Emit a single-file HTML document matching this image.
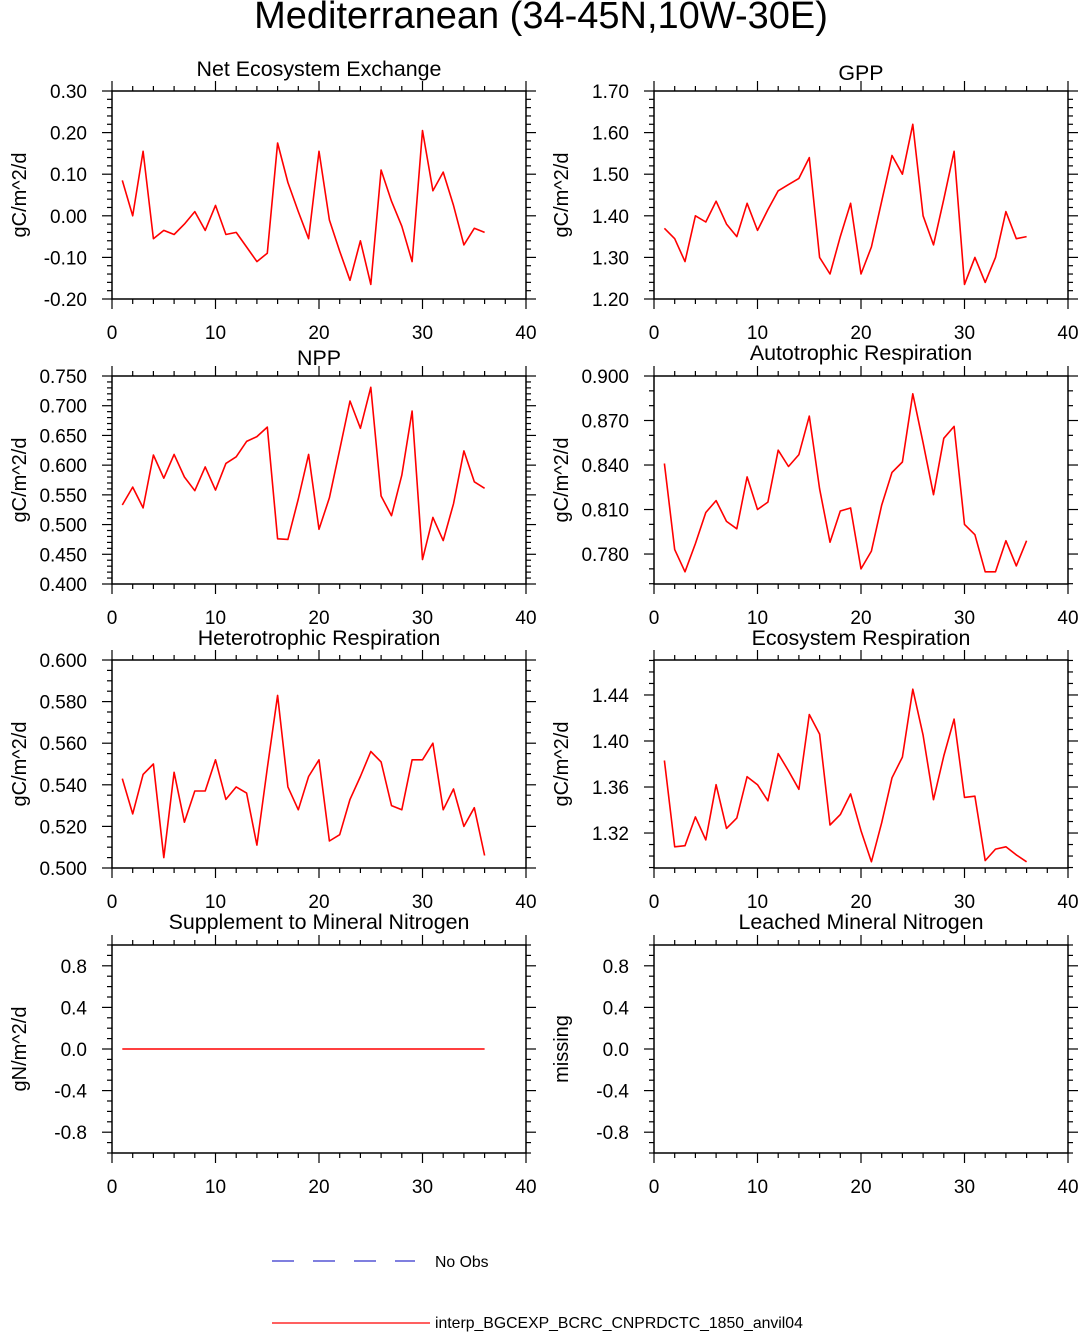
<!DOCTYPE html>
<html><head><meta charset="utf-8"><style>
html,body{margin:0;padding:0;background:#fff;}
svg{display:block;font-family:"Liberation Sans",Arial,sans-serif;}
</style></head><body>
<svg id="c" width="1080" height="1332" viewBox="0 0 1080 1332" xmlns="http://www.w3.org/2000/svg">
<text x="541" y="28" font-size="38" text-anchor="middle">Mediterranean (34-45N,10W-30E)</text>
<g>
<line x1="272" y1="1261" x2="415" y2="1261" stroke="#3333cc" stroke-width="1.2" stroke-dasharray="22,19"/>
<text x="435" y="1267" font-size="15.8">No Obs</text>
<line x1="272" y1="1323" x2="430" y2="1323" stroke="#ff0000" stroke-width="1.2"/>
<text x="435" y="1328" font-size="15.8">interp_BGCEXP_BCRC_CNPRDCTC_1850_anvil04</text>
</g>
</svg>
<script>
const years = Array.from({length:36},(_,i)=>i+1);
const neeValues = [0.085,0.0,0.155,-0.055,-0.035,-0.045,-0.02,0.01,-0.035,0.025,-0.045,-0.04,-0.075,-0.11,-0.09,0.175,0.08,0.01,-0.055,0.155,-0.01,-0.085,-0.155,-0.06,-0.165,0.11,0.035,-0.025,-0.11,0.205,0.06,0.105,0.025,-0.07,-0.03,-0.04];
const gppValues = [1.37,1.345,1.29,1.40,1.385,1.435,1.38,1.35,1.43,1.365,1.415,1.46,1.475,1.49,1.54,1.30,1.26,1.35,1.43,1.26,1.325,1.435,1.545,1.50,1.62,1.40,1.33,1.44,1.555,1.235,1.30,1.24,1.30,1.41,1.345,1.35];
const nppValues = [0.533,0.563,0.528,0.617,0.578,0.618,0.580,0.557,0.597,0.558,0.603,0.614,0.640,0.648,0.664,0.476,0.475,0.543,0.618,0.492,0.545,0.626,0.708,0.662,0.731,0.548,0.515,0.583,0.691,0.441,0.512,0.473,0.535,0.624,0.572,0.561];
const arValues = [0.841,0.783,0.768,0.787,0.808,0.816,0.802,0.797,0.832,0.810,0.815,0.850,0.839,0.847,0.873,0.824,0.788,0.809,0.811,0.770,0.782,0.813,0.835,0.842,0.888,0.855,0.820,0.858,0.866,0.800,0.793,0.768,0.768,0.789,0.772,0.789];
const hrValues = [0.543,0.526,0.545,0.550,0.505,0.546,0.522,0.537,0.537,0.552,0.533,0.539,0.536,0.511,0.548,0.583,0.539,0.528,0.544,0.552,0.513,0.516,0.533,0.544,0.556,0.551,0.530,0.528,0.552,0.552,0.560,0.528,0.538,0.520,0.529,0.506];
const erValues = [1.383,1.308,1.309,1.334,1.314,1.362,1.324,1.333,1.369,1.362,1.348,1.389,1.374,1.358,1.423,1.406,1.327,1.336,1.354,1.322,1.295,1.329,1.368,1.386,1.445,1.405,1.349,1.387,1.419,1.351,1.352,1.296,1.306,1.308,1.301,1.295];
const supValues = [0,0,0,0,0,0,0,0,0,0,0,0,0,0,0,0,0,0,0,0,0,0,0,0,0,0,0,0,0,0,0,0,0,0,0,0];
const xTicks = [0,10,20,30,40];

const NS="http://www.w3.org/2000/svg";
const svg=document.getElementById('c');
function mk(tag,attrs,parent){const e=document.createElementNS(NS,tag);for(const k in attrs)e.setAttribute(k,attrs[k]);(parent||svg).appendChild(e);return e;}

const panels=[
 {name:'nee',title:'Net Ecosystem Exchange',ylab:'gC/m^2/d',col:0,row:0,vals:neeValues,ymin:-0.2,ymax:0.3,t0:-0.2,step:0.1,dec:2,minor:5,ty:69},
 {name:'gpp',title:'GPP',ylab:'gC/m^2/d',col:1,row:0,vals:gppValues,ymin:1.2,ymax:1.7,t0:1.2,step:0.1,dec:2,minor:5,ty:73},
 {name:'npp',title:'NPP',ylab:'gC/m^2/d',col:0,row:1,vals:nppValues,ymin:0.4,ymax:0.75,t0:0.4,step:0.05,dec:3,minor:5,ty:358},
 {name:'autotrophic-respiration',title:'Autotrophic Respiration',ylab:'gC/m^2/d',col:1,row:1,vals:arValues,ymin:0.7598,ymax:0.9,t0:0.78,step:0.03,dec:3,minor:3,ty:353},
 {name:'heterotrophic-respiration',title:'Heterotrophic Respiration',ylab:'gC/m^2/d',col:0,row:2,vals:hrValues,ymin:0.5,ymax:0.6,t0:0.5,step:0.02,dec:3,minor:4,ty:638},
 {name:'ecosystem-respiration',title:'Ecosystem Respiration',ylab:'gC/m^2/d',col:1,row:2,vals:erValues,ymin:1.2896,ymax:1.4704,t0:1.32,step:0.04,dec:2,minor:4,ty:638},
 {name:'supplement-mineral-nitrogen',title:'Supplement to Mineral Nitrogen',ylab:'gN/m^2/d',col:0,row:3,vals:supValues,ymin:-1,ymax:1,t0:-0.8,step:0.4,dec:1,minor:4,ty:922},
 {name:'leached-mineral-nitrogen',title:'Leached Mineral Nitrogen',ylab:'missing',col:1,row:3,vals:null,ymin:-1,ymax:1,t0:-0.8,step:0.4,dec:1,minor:4,ty:922}
];
const lefts=[112,654], tops=[91,376,660,945], W=414, H=208;

panels.forEach(p=>{
 const L=lefts[p.col], T=tops[p.row], R=L+W, B=T+H;
 const g=mk('g',{});
 
 
 const xs=v=>L+(v-0)/40*W;
 const ys=v=>B-(v-p.ymin)/(p.ymax-p.ymin)*H;
 const t=mk('text',{x:L+W/2,y:p.ty+7,'font-size':21.4,'text-anchor':'middle'},g);t.textContent=p.title;
 
 
 const yl=mk('text',{x:0,y:0,'font-size':20,'text-anchor':'middle',transform:`translate(${L-86},${T+H/2}) rotate(-90)`},g);yl.textContent=p.ylab;
 
 
 for(let v=0;v<=40;v+=2){const x=xs(v);const len=(v%10===0)?10:5;
  mk('line',{x1:x,y1:B,x2:x,y2:B+len,stroke:'#000','stroke-width':1.2},g);
  mk('line',{x1:x,y1:T,x2:x,y2:T-len,stroke:'#000','stroke-width':1.2},g);}
 xTicks.forEach(v=>{const tx=mk('text',{x:xs(v),y:B+40,'font-size':19,'text-anchor':'middle'},g);tx.textContent=v;
  
  });
 const ms=p.step/p.minor;
 let k0=Math.ceil((p.ymin-p.t0)/ms-1e-6), k1=Math.floor((p.ymax-p.t0)/ms+1e-6);
 for(let k=k0;k<=k1;k++){const v=p.t0+k*ms;const y=ys(v);const maj=(((k%p.minor)+p.minor)%p.minor===0);const len=maj?10:5;
  mk('line',{x1:L,y1:y,x2:L-len,y2:y,stroke:'#000','stroke-width':1.2},g);
  mk('line',{x1:R,y1:y,x2:R+len,y2:y,stroke:'#000','stroke-width':1.2},g);
  if(maj){const ty=mk('text',{x:L-25,y:y+7,'font-size':19,'text-anchor':'end'},g);ty.textContent=v.toFixed(p.dec);
   
   }}
 const fr=mk('rect',{x:L,y:T,width:W,height:H,fill:'none',stroke:'#000','stroke-width':1.5},g);
 
 
 if(p.vals){const pts=p.vals.map((v,i)=>xs(years[i]).toFixed(1)+','+ys(v).toFixed(1)).join(' ');
  const pl=mk('polyline',{points:pts,fill:'none',stroke:'#ff0000','stroke-width':1.6,'stroke-linejoin':'round'},g);
  
  }
});
</script>
</body></html>
